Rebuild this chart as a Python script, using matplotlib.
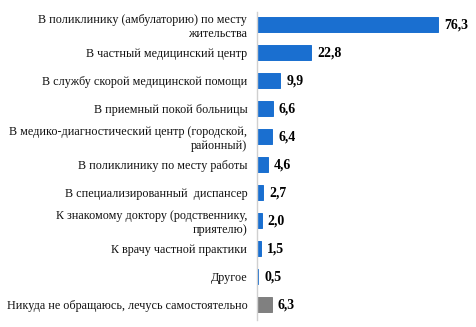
import matplotlib
matplotlib.use("Agg")
import matplotlib.pyplot as plt

categories = [
    "В поликлинику (амбулаторию) по месту\nжительства",
    "В частный медицинский центр",
    "В службу скорой медицинской помощи",
    "В приемный покой больницы",
    "В медико-диагностический центр (городской,\nрайонный)",
    "В поликлинику по месту работы",
    "В специализированный  диспансер",
    "К знакомому доктору (родственнику,\nприятелю)",
    "К врачу частной практики",
    "Другое",
    "Никуда не обращаюсь, лечусь самостоятельно",
]
values = [76.3, 22.8, 9.9, 6.6, 6.4, 4.6, 2.7, 2.0, 1.5, 0.5, 6.3]
value_labels = ["76,3", "22,8", "9,9", "6,6", "6,4", "4,6", "2,7", "2,0", "1,5", "0,5", "6,3"]
colors = ["#1a6fd0"] * 10 + ["#808080"]

plt.rcParams['font.family'] = ['Liberation Serif', 'DejaVu Serif']

fig = plt.figure(figsize=(4.77, 3.27), dpi=100)
ax = fig.add_axes([257/477, 1 - 320/327, 1 - 257/477, (320 - 12)/327])

pos = list(range(len(categories)))
ax.barh(pos, values, height=0.54, color=colors, edgecolor=colors, linewidth=0.7)
for p, v, t in zip(pos, values, value_labels):
    ax.text(v + 2.5, p, t, va='center', ha='left', fontsize=10, fontweight='bold', color='black')

ax.set_ylim(10.55, -0.45)
ax.set_xlim(0, 92.7)
ax.set_yticks(pos)
ax.set_yticklabels(categories, fontsize=8.7, color='#111111', linespacing=1.2)
ax.tick_params(axis='y', length=0, pad=7)
ax.set_xticks([])
for s in ['top', 'right', 'bottom']:
    ax.spines[s].set_visible(False)
ax.spines['left'].set_color('#d0d0d0')
ax.spines['left'].set_linewidth(1.0)

fig.savefig("out.png", dpi=100)
